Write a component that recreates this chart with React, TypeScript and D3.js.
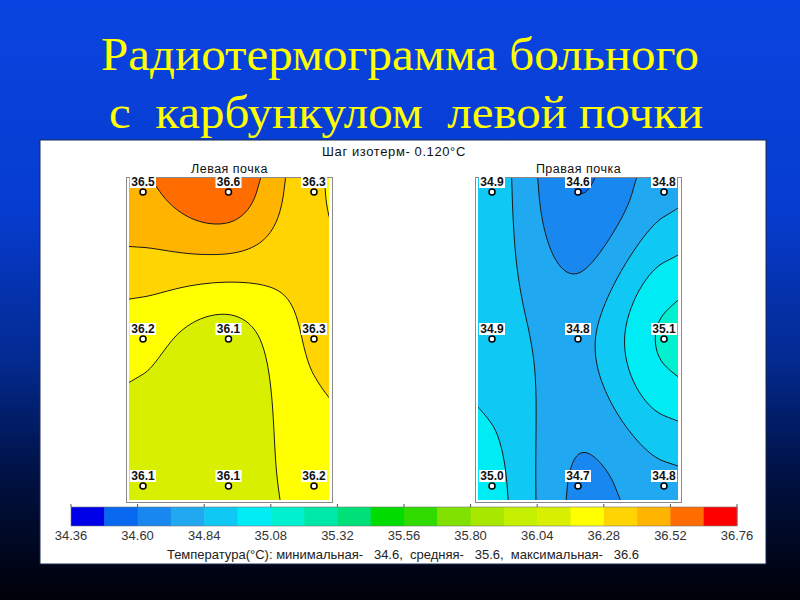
import React from "react";
import * as d3 from "d3";

// ---------- data ----------
const leftKidney = [
  [36.5, 36.6, 36.3],
  [36.2, 36.1, 36.3],
  [36.1, 36.1, 36.2],
];
const rightKidney = [
  [34.9, 34.6, 34.8],
  [34.9, 34.8, 35.1],
  [35.0, 34.7, 34.8],
];
const mapTitles = ["Левая почка", "Правая почка"];
const legendTicks = [34.36, 34.6, 34.84, 35.08, 35.32, 35.56, 35.8, 36.04, 36.28, 36.52, 36.76];
const isoStep = 0.12;
const bandColors = [
  "#0000e8", "#0868f0", "#1888f0", "#20a8f0", "#10c8f4",
  "#00ecf4", "#00f0d0", "#00e8a8", "#00e078", "#00dc00",
  "#30dc00", "#80e000", "#a8e800", "#c4f000", "#d8f000",
  "#ffff00", "#ffd400", "#ffb400", "#ff6c00", "#ff0000",
];
const titleLines = ["Радиотермограмма больного", " с  карбункулом  левой почки"];
const stepText = "Шаг изотерм- 0.120°C";
const statMin = 34.6;
const statMean = 35.6;
const statMax = 36.6;

const thresholds = d3.range(bandColors.length).map((k) => +(legendTicks[0] + k * isoStep).toFixed(2));

// Catmull-Rom (duplicated end points) through 3 nodes, linear outside
function cr(p: number[], t: number) {
  const m = [(p[1] - p[0]) / 2, (p[2] - p[0]) / 2, (p[2] - p[1]) / 2];
  if (t <= 0) return p[0] + m[0] * t;
  if (t >= 2) return p[2] + m[2] * (t - 2);
  const k = t < 1 ? 0 : 1;
  const s = t - k;
  const s2 = s * s, s3 = s2 * s;
  return (
    (2 * s3 - 3 * s2 + 1) * p[k] +
    (s3 - 2 * s2 + s) * m[k] +
    (-2 * s3 + 3 * s2) * p[k + 1] +
    (s3 - s2) * m[k + 1]
  );
}

type Box = { x: number; y: number; w: number; h: number };
const SANS = "Liberation Sans, Arial, sans-serif";

function KidneyMap(props: {
  id: string;
  values: number[][];
  title: string;
  fill: Box;
  frame: Box;
  xs: d3.ScaleLinear<number, number>;
  ys: d3.ScaleLinear<number, number>;
}) {
  const { id, values, title, fill, frame, xs, ys } = props;
  const res = 2, pad = 4;
  const X0 = fill.x - pad, Y0 = fill.y - pad;
  const nx = Math.ceil((fill.w + 2 * pad) / res);
  const ny = Math.ceil((fill.h + 2 * pad) / res);
  const grid: number[] = new Array(nx * ny);
  for (let j = 0; j < ny; j++) {
    const v = ys.invert(Y0 + (j + 0.5) * res);
    const cols = [0, 1, 2].map((c) => cr([values[0][c], values[1][c], values[2][c]], v));
    for (let i = 0; i < nx; i++) {
      const u = xs.invert(X0 + (i + 0.5) * res);
      grid[j * nx + i] = cr(cols, u);
    }
  }
  const contours = d3.contours().size([nx, ny]).thresholds(thresholds)(grid);
  const proj = d3.geoTransform({
    point: function (x: number, y: number) {
      (this as any).stream.point(X0 + x * res, Y0 + y * res);
    },
  });
  const path = d3.geoPath(proj as any);
  const clipId = `clip-${id}`;
  return (
    <g>
      <text x={frame.x + frame.w / 2} y={frame.y - 5} textAnchor="middle" fontFamily={SANS} fontSize={12.5} letterSpacing={0.5} fill="#111">
        {title}
      </text>
      <rect x={frame.x} y={frame.y} width={frame.w} height={frame.h} fill="#fff" stroke="#8a8a8a" strokeWidth={1} />
      <clipPath id={clipId}>
        <rect x={fill.x} y={fill.y} width={fill.w} height={fill.h} />
      </clipPath>
      <g clipPath={`url(#${clipId})`}>
        {contours.map((c, k) => (
          <path key={"f" + k} d={path(c as any) || ""} fill={bandColors[k]} stroke="none" />
        ))}
        {contours.map((c, k) =>
          k === 0 ? null : (
            <path key={"l" + k} d={path(c as any) || ""} fill="none" stroke="#1a1a1a" strokeWidth={1} />
          )
        )}
      </g>
      {values.map((row, r) =>
        row.map((val, c) => {
          const px = xs(c), py = ys(r);
          const label = val.toFixed(1);
          return (
            <g key={`${r}-${c}`}>
              <rect x={px - 13} y={py - 16} width={26} height={12} fill="#fff" />
              <text x={px} y={py - 6} textAnchor="middle" fontFamily={SANS} fontWeight="bold" fontSize={12} fill="#111">
                {label}
              </text>
              <circle cx={px} cy={py} r={3} fill="#fff" stroke="#000" strokeWidth={1.5} />
            </g>
          );
        })
      )}
    </g>
  );
}

export default function App() {
  const W = 800, H = 600;
  const legendX = d3.scaleLinear().domain([legendTicks[0], legendTicks[legendTicks.length - 1]]).range([71, 737]);
  const rowY = d3.scaleLinear().domain([0, 2]).range([192, 486]);
  const leftX = d3.scaleLinear().domain([0, 2]).range([143, 314]);
  const rightX = d3.scaleLinear().domain([0, 2]).range([492, 664]);
  const barY = 507, barH = 19;
  return (
    <svg width={W} height={H} style={{ position: "fixed", left: 0, top: 0 }}>
      <defs>
        <linearGradient id="bg" x1="0" y1="0" x2="0" y2="1">
          <stop offset="0" stopColor="#0a44e0" />
          <stop offset="0.35" stopColor="#063cd0" />
          <stop offset="0.6" stopColor="#032a90" />
          <stop offset="0.8" stopColor="#001040" />
          <stop offset="1" stopColor="#000008" />
        </linearGradient>
      </defs>
      <rect x={0} y={0} width={W} height={H} fill="url(#bg)" />
      {titleLines.map((t, i) => (
        <text key={i} transform={`translate(400, ${70 + i * 58}) scale(1.065, 1)`} x={0} y={0} textAnchor="middle" fontFamily="Liberation Serif, Times New Roman, serif" fontSize={46} fill="#ffff00" style={{ whiteSpace: "pre" }}>
          {t}
        </text>
      ))}
      <rect x={40} y={140} width={726} height={424} fill="#fff" stroke="#1a2a50" strokeWidth={1} />
      <text x={394} y={156} textAnchor="middle" fontFamily={SANS} fontSize={13} letterSpacing={0.6} fill="#111">
        {stepText}
      </text>
      <KidneyMap id="l" values={leftKidney} title={mapTitles[0]} fill={{ x: 129, y: 178, w: 200, h: 322 }} frame={{ x: 126.5, y: 177.5, w: 206, h: 325 }} xs={leftX} ys={rowY} />
      <KidneyMap id="r" values={rightKidney} title={mapTitles[1]} fill={{ x: 478, y: 178, w: 200, h: 322 }} frame={{ x: 475.5, y: 177.5, w: 206, h: 325 }} xs={rightX} ys={rowY} />
      {bandColors.map((c, k) => (
        <rect key={k} x={legendX(thresholds[k])} y={barY} width={legendX(thresholds[k] + isoStep) - legendX(thresholds[k]) + 0.5} height={barH} fill={c} />
      ))}
      <rect x={legendX(legendTicks[0])} y={barY} width={legendX(legendTicks[legendTicks.length - 1]) - legendX(legendTicks[0])} height={barH} fill="none" stroke="#777" strokeWidth={0.6} />
      {legendTicks.map((t, i) => (
        <g key={i}>
          <line x1={legendX(t)} x2={legendX(t)} y1={barY - 3} y2={barY} stroke="#555" strokeWidth={1} />
          <text x={legendX(t)} y={540} textAnchor="middle" fontFamily={SANS} fontSize={13} fill="#333">
            {t.toFixed(2)}
          </text>
        </g>
      ))}
      <text x={403} y={559} textAnchor="middle" fontFamily={SANS} fontSize={13} fill="#222" style={{ whiteSpace: "pre" }}>
        {`Температура(°C): минимальная-   ${statMin.toFixed(1)},  средняя-   ${statMean.toFixed(1)},  максимальная-   ${statMax.toFixed(1)}`}
      </text>
    </svg>
  );
}
